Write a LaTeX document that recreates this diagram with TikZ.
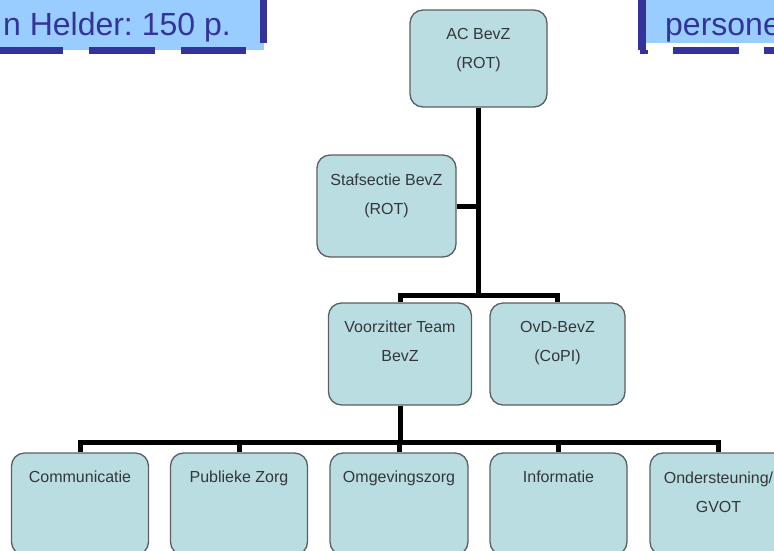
\documentclass[tikz,border=0pt]{standalone}
\usepackage{fontspec}
\setmainfont{Liberation Sans}
\frenchspacing
\definecolor{boxfill}{HTML}{BADDE1}
\definecolor{boxdraw}{HTML}{5A5F60}
\definecolor{txt}{HTML}{33373A}
\definecolor{cfill}{HTML}{99CCFF}
\definecolor{cdark}{HTML}{333399}
\tikzset{
  orgbox/.style={draw=boxdraw, line width=1.3pt, fill=boxfill, rounded corners=13pt, inner sep=0pt},
  lbl/.style={text=txt, align=center, inner sep=0pt, font=\fontsize{16}{29}\selectfont},
  conn/.style={line width=5pt, draw=black},
  callout/.style={text=cdark, inner sep=0pt, font=\fontsize{32}{34}\selectfont},
}
\begin{document}
\begin{tikzpicture}[x=1pt,y=-1pt]
\useasboundingbox (0,0) rectangle (774,550);
\clip (0,0) rectangle (774,550);
% callouts
\fill[cfill] (0,0) rectangle (264,50);
\fill[cdark] (260,0) rectangle (267,43);
\fill[cdark] (0,47) rectangle (63,54);
\fill[cdark] (89,47) rectangle (155,54);
\fill[cdark] (181,47) rectangle (246,54);
\node[callout, anchor=base east] (leftcall) at (231,35) {n Helder: 150 p.};
\fill[cfill] (646,0) rectangle (774,43);
\fill[cdark] (638,0) rectangle (646,50);
\fill[cdark] (640,50) rectangle (648,54);
\fill[cdark] (673,47) rectangle (739,54);
\fill[cdark] (764,47) rectangle (774,54);
\node[callout, anchor=base west] (rightcall) at (665,35) {persone};
% boxes
\node[orgbox, minimum width=137pt, minimum height=97pt] (ac) at (478.5,58.5) {};
\node[orgbox, minimum width=139pt, minimum height=102pt] (staf) at (386.5,206) {};
\node[orgbox, minimum width=143pt, minimum height=102pt] (vz) at (400,354) {};
\node[orgbox, minimum width=135pt, minimum height=102pt] (ovd) at (557.5,354) {};
\node[orgbox, minimum width=137pt, minimum height=102pt] (comm) at (80,504) {};
\node[orgbox, minimum width=137pt, minimum height=102pt] (publ) at (239,504) {};
\node[orgbox, minimum width=138pt, minimum height=102pt] (omg) at (399,504) {};
\node[orgbox, minimum width=137pt, minimum height=102pt] (info) at (558.5,504) {};
\node[orgbox, minimum width=137pt, minimum height=102pt] (ond) at (718.5,504) {};
% labels (base anchor = baseline of last line)
\node[lbl, anchor=base] (acl) at ([yshift=-59pt]ac.north) {AC BevZ\\(ROT)};
\node[lbl, anchor=base] (stafl) at ([yshift=-60pt]staf.north) {Stafsectie BevZ\\(ROT)};
\node[lbl, anchor=base] (vzl) at ([yshift=-59pt]vz.north) {Voorzitter Team\\BevZ};
\node[lbl, anchor=base] (ovdl) at ([yshift=-59pt]ovd.north) {OvD-BevZ\\(CoPI)};
\node[lbl, anchor=base] (comml) at ([yshift=-30pt]comm.north) {Communicatie};
\node[lbl, anchor=base] (publl) at ([yshift=-30pt]publ.north) {Publieke Zorg};
\node[lbl, anchor=base] (omgl) at ([yshift=-30pt]omg.north) {Omgevingszorg};
\node[lbl, anchor=base] (infol) at ([yshift=-30pt]info.north) {Informatie};
\node[lbl, anchor=base] (ondl) at ([yshift=-60pt]ond.north) {Ondersteuning/\\GVOT};
% connectors
\coordinate (busA) at (0,295);
\coordinate (busB) at (0,442);
\draw[conn] (ac.south) -- (ac.south |- busA);
\draw[conn] (staf.east) -- (staf.east -| ac.south);
\draw[conn] (vz.north) -- (vz.north |- busA) -- (ovd.north |- busA) -- (ovd.north);
\draw[conn] (vz.south) -- (vz.south |- busB);
\draw[conn] (comm.north) -- (comm.north |- busB) -- (ond.north |- busB) -- (ond.north);
\draw[conn] (publ.north) -- (publ.north |- busB);
\draw[conn] (omg.north) -- (omg.north |- busB);
\draw[conn] (info.north) -- (info.north |- busB);
\end{tikzpicture}
\end{document}
